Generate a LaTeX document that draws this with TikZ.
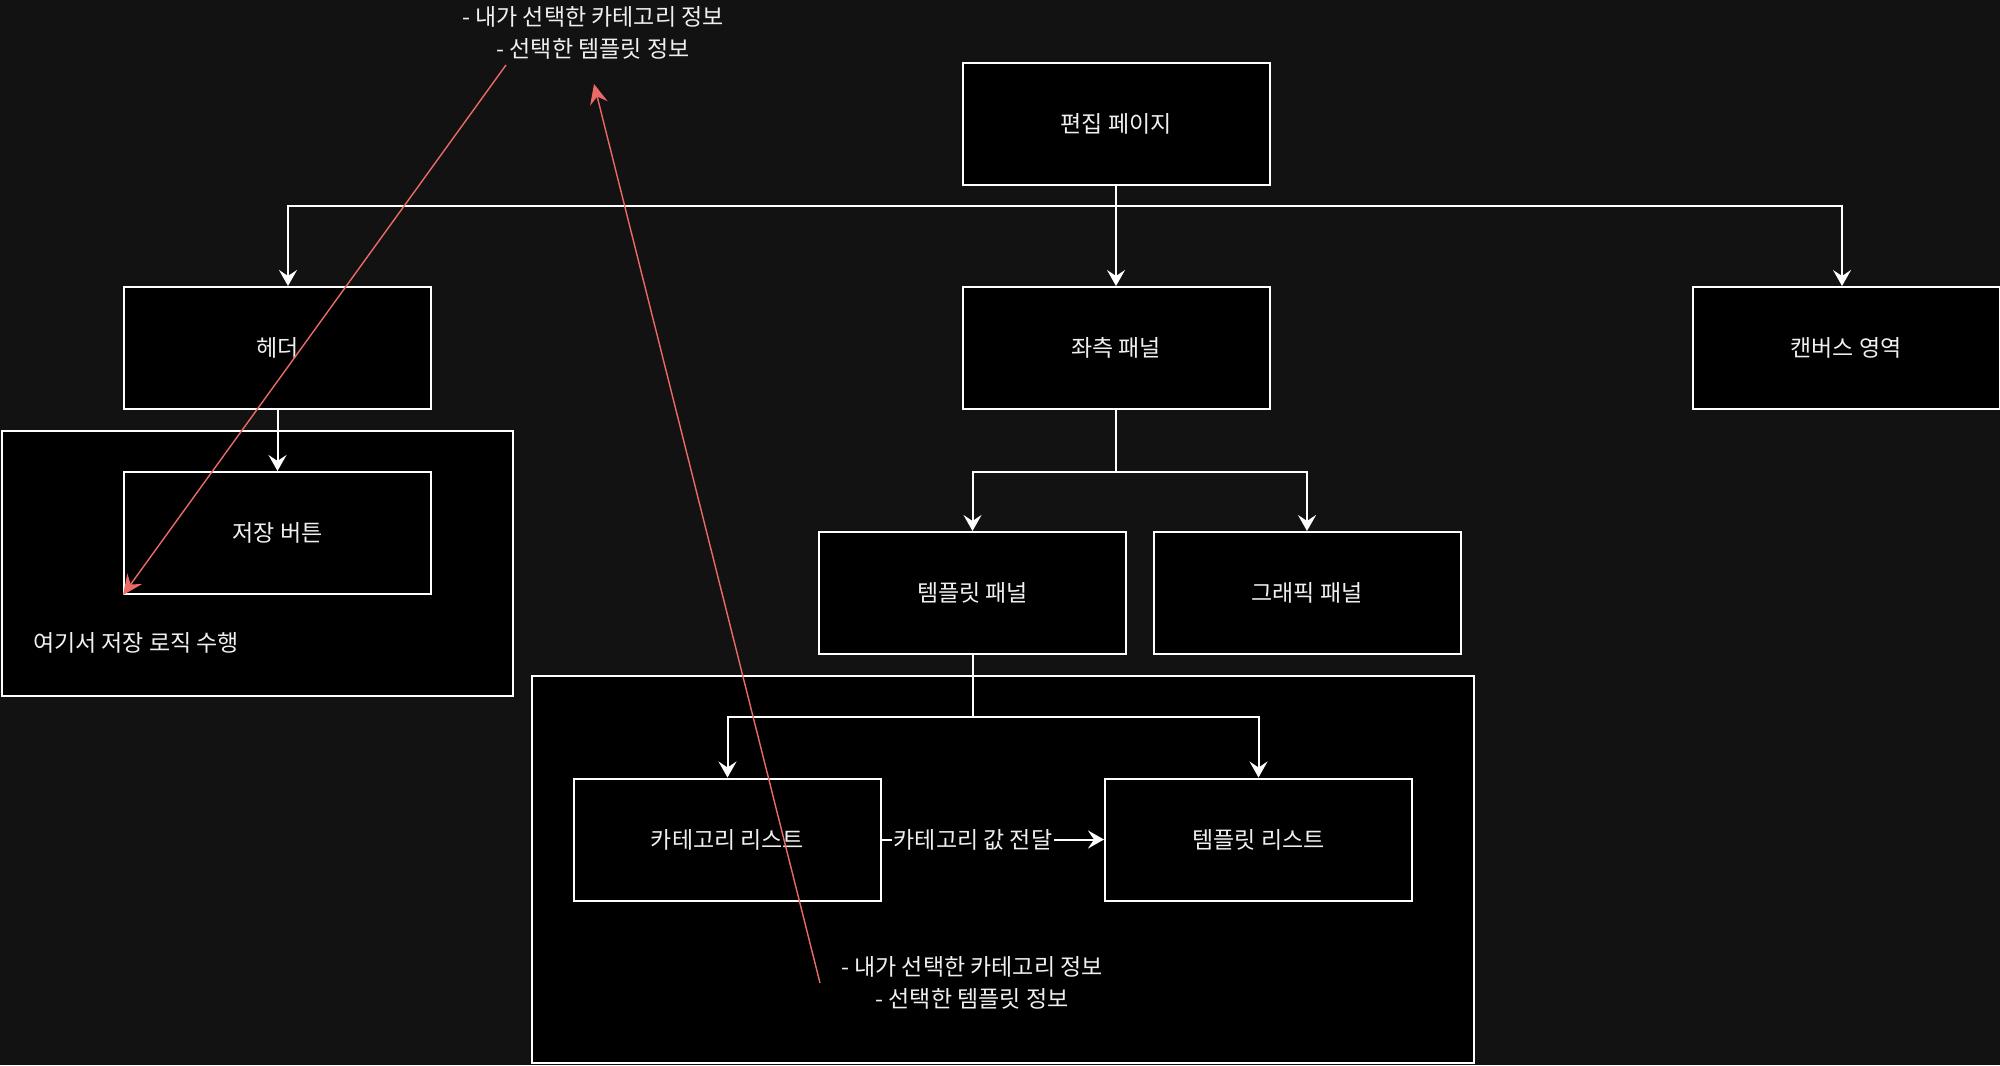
\documentclass[tikz,border=0pt]{standalone}
\usepackage{fontspec}
\setmainfont{Noto Sans CJK KR}
\usetikzlibrary{arrows.meta}
\definecolor{bgdark}{HTML}{121212}
\definecolor{notered}{HTML}{EA6B66}
\definecolor{txtgray}{HTML}{F0F0F0}

\begin{document}
\begin{tikzpicture}[x=0.5pt,y=-0.5pt]
\tikzstyle{every node}=[font=\fontsize{11.5}{16}\selectfont,text=txtgray]
\tikzstyle{box}=[rectangle,draw=white,fill=black,line width=1pt,minimum width=153.5pt,minimum height=61pt,inner sep=0pt]
\tikzstyle{group}=[rectangle,draw=white,fill=black,line width=1pt,inner sep=0pt]
\tikzstyle{note}=[align=center]
\tikzstyle{wire}=[draw=white,line width=1pt,-{Stealth[length=8pt,width=9pt,inset=3pt]}]
\tikzstyle{redwire}=[draw=notered,line width=0.7pt,-{Stealth[length=10pt,width=9pt,inset=3.5pt]}]

\fill[bgdark] (0,0) rectangle (2000,1065);
\useasboundingbox (0,0) rectangle (2000,1065);

% group frames
\node[group,minimum width=255.5pt,minimum height=132.5pt] (savegroup) at (257.5,563.5) {};
\node[group,minimum width=471pt,minimum height=193.5pt] (tplgroup) at (1003,869.5) {};
\node[anchor=west] (savelogic) at (26,643) {여기서 저장 로직 수행};

% boxes
\node[box] (page) at (1116,124) {편집 페이지};
\node[box] (header) at (277.5,348) {헤더};
\node[box] (leftpanel) at (1116,348) {좌측 패널};
\node[box] (canvas) at (1846,348) {캔버스 영역};
\node[box] (save) at (277.5,533) {저장 버튼};
\node[box] (tplpanel) at (972.5,593) {템플릿 패널};
\node[box] (gfxpanel) at (1307,593) {그래픽 패널};
\node[box] (catlist) at (727.5,839.5) {카테고리 리스트};
\node[box] (tpllist) at (1258.5,839.5) {템플릿 리스트};

% notes
\node[note] (topnote) at (593,33) {- 내가 선택한 카테고리 정보\\- 선택한 템플릿 정보};
\node[note] (botnote) at (972,983) {- 내가 선택한 카테고리 정보\\- 선택한 템플릿 정보};

% connectors
\coordinate (bus1) at (1116,206);
\coordinate (bus2) at (1116,472);
\coordinate (bus3) at (972.5,717);
\draw[wire] (page.south) -- (leftpanel.north);
\draw[wire] (bus1) -| ([xshift=5.25pt]header.north);
\draw[wire] (bus1) -| ([xshift=-2pt]canvas.north);
\draw[wire] (header.south) -- (save.north);
\draw[wire] (leftpanel.south) -- (bus2) -| (tplpanel.north);
\draw[wire] (bus2) -| (gfxpanel.north);
\draw[wire] (tplpanel.south) -- (bus3) -| (catlist.north);
\draw[wire] (bus3) -| (tpllist.north);
\draw[wire] (catlist.east) -- node[pos=0.41,fill=black,inner sep=1pt] (passlabel) {카테고리 값 전달} (tpllist.west);

% red notes arrows
\coordinate (r1) at (506,65);
\coordinate (r2s) at (820,983);
\coordinate (r2e) at (594,84);
\draw[redwire] (r1) -- (save.south west);
\draw[redwire] (r2s) -- (r2e);
\end{tikzpicture}
\end{document}
